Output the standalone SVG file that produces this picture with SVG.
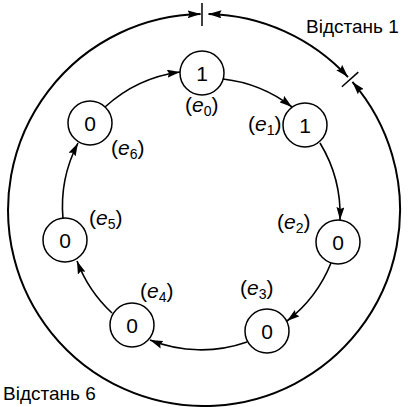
<svg xmlns="http://www.w3.org/2000/svg" width="410" height="407" viewBox="0 0 410 407">
<style>
.node circle{fill:#fff;stroke:#000;stroke-width:1.5}
.node text{font-family:"Liberation Sans",Arial,sans-serif;font-size:21px;text-anchor:middle;fill:#000}
.lbl{font-family:"Liberation Sans",Arial,sans-serif;font-size:21px;fill:#000}
.lbl .e{font-style:italic}
.title{font-family:"Liberation Sans",Arial,sans-serif;font-size:19px;fill:#000}
.conn{fill:none;stroke:#000;stroke-width:1.6;marker-end:url(#ah)}
.outer{fill:none;stroke:#000;stroke-width:2;marker-start:url(#ah2);marker-end:url(#ah2)}
.tick{stroke:#000;stroke-width:1.5}
</style>
<defs>
<marker id="ah" markerUnits="userSpaceOnUse" markerWidth="14" markerHeight="8" refX="13" refY="4" orient="auto">
<path d="M0,0 L13,4 L0,8 L2,4 z" fill="#000"/>
</marker>
<marker id="ah2" markerUnits="userSpaceOnUse" markerWidth="14" markerHeight="8" refX="13" refY="4" orient="auto-start-reverse">
<path d="M0,0 L13,4 L0,8 L2,4 z" fill="#000"/>
</marker>
</defs>
<g id="outer-ring">
<path class="outer" d="M208.5 14.05 A196 196 0 0 1 348.0 77.1"/>
<path class="outer" d="M352.4 81.9 A196 196 0 1 1 200.6 14.03"/>
<line class="tick" x1="202" y1="3" x2="202" y2="26"/>
<line class="tick" x1="341.9" y1="86.7" x2="358.3" y2="72.1"/>
</g>
<g id="connectors">
<path class="conn" d="M105 107 A138 138 0 0 1 180 72"/>
<path class="conn" d="M223 79 A138 138 0 0 1 292 107"/>
<path class="conn" d="M320 143 A138 138 0 0 1 340 220"/>
<path class="conn" d="M331 263 A138 138 0 0 1 287 321"/>
<path class="conn" d="M247 342 A138 138 0 0 1 150 340"/>
<path class="conn" d="M112 313 A138 138 0 0 1 77 261"/>
<path class="conn" d="M63 219 A138 138 0 0 1 78 143"/>
</g>
<g id="e0" class="node"><circle cx="202" cy="73" r="22"/><text x="202" y="81">1</text></g>
<g id="e1" class="node"><circle cx="305" cy="125" r="22"/><text x="305" y="133">1</text></g>
<g id="e2" class="node"><circle cx="338" cy="242" r="22"/><text x="338" y="250">0</text></g>
<g id="e3" class="node"><circle cx="267" cy="331" r="22"/><text x="267" y="339">0</text></g>
<g id="e4" class="node"><circle cx="132" cy="325" r="22"/><text x="132" y="333">0</text></g>
<g id="e5" class="node"><circle cx="65" cy="240" r="22"/><text x="65" y="248">0</text></g>
<g id="e6" class="node"><circle cx="90" cy="123" r="22"/><text x="90" y="131">0</text></g>
<g id="labels">
<text class="lbl" x="185" y="112">(<tspan class="e">e</tspan><tspan font-size="14" dy="4">0</tspan><tspan dy="-4">)</tspan></text>
<text class="lbl" x="248" y="131">(<tspan class="e">e</tspan><tspan font-size="14" dy="4">1</tspan><tspan dy="-4">)</tspan></text>
<text class="lbl" x="277" y="229">(<tspan class="e">e</tspan><tspan font-size="14" dy="4">2</tspan><tspan dy="-4">)</tspan></text>
<text class="lbl" x="240" y="295">(<tspan class="e">e</tspan><tspan font-size="14" dy="4">3</tspan><tspan dy="-4">)</tspan></text>
<text class="lbl" x="140" y="298">(<tspan class="e">e</tspan><tspan font-size="14" dy="4">4</tspan><tspan dy="-4">)</tspan></text>
<text class="lbl" x="89" y="225">(<tspan class="e">e</tspan><tspan font-size="14" dy="4">5</tspan><tspan dy="-4">)</tspan></text>
<text class="lbl" x="111" y="155">(<tspan class="e">e</tspan><tspan font-size="14" dy="4">6</tspan><tspan dy="-4">)</tspan></text>
<text class="title" x="306" y="33">Відстань 1</text>
<text class="title" x="3" y="400">Відстань 6</text>
</g>
</svg>
